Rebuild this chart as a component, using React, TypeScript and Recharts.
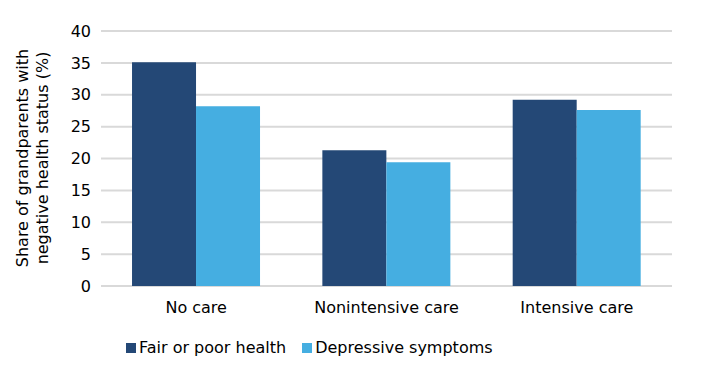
import { BarChart, Bar, XAxis, YAxis, CartesianGrid, Legend } from "recharts";

const categories = ["No care", "Nonintensive care", "Intensive care"];
const fairPoorHealth = [35.1, 21.3, 29.2];
const depressiveSymptoms = [28.2, 19.4, 27.6];
const yTicks = [0, 5, 10, 15, 20, 25, 30, 35, 40];

const SERIES = [
  { key: "fair", name: "Fair or poor health", color: "#244876" },
  { key: "dep", name: "Depressive symptoms", color: "#45aee1" },
];

const data = categories.map((name, i) => ({
  name,
  fair: fairPoorHealth[i],
  dep: depressiveSymptoms[i],
}));

const FONT = "Verdana, 'DejaVu Sans', sans-serif";

const YLabel = () => (
  <text
    transform="translate(0,158) rotate(-90)"
    textAnchor="middle"
    fontFamily={FONT}
    fontSize={16}
    fill="#000"
  >
    <tspan x={0} y={28}>Share of grandparents with</tspan>
    <tspan x={0} y={48}>negative health status (%)</tspan>
  </text>
);

const LegendContent = () => (
  <div style={{ display: "flex", fontFamily: FONT, fontSize: 16, color: "#000" }}>
    {SERIES.map((s, i) => (
      <div
        key={s.key}
        style={{ display: "flex", alignItems: "center", marginRight: i === 0 ? 16 : 0 }}
      >
        <span
          style={{ width: 10, height: 10, background: s.color, display: "inline-block", marginRight: 3 }}
        />
        <span>{s.name}</span>
      </div>
    ))}
  </div>
);

export default function App() {
  return (
    <div style={{ position: "absolute", left: 0, top: 0, background: "#fff" }}>
      <BarChart
        width={712}
        height={390}
        data={data}
        margin={{ top: 31, right: 40, bottom: 55, left: 0 }}
        barCategoryGap="16.3%"
        barGap={0}
      >
        <CartesianGrid vertical={false} stroke="#d9d9d9" strokeWidth={2} />
        <XAxis
          dataKey="name"
          axisLine={false}
          tickLine={false}
          tick={{ fontFamily: FONT, fontSize: 16, fill: "#000" }}
          tickMargin={10}
        />
        <YAxis
          width={101}
          domain={[0, 40]}
          ticks={yTicks}
          axisLine={false}
          tickLine={false}
          tickMargin={4}
          tick={{ fontFamily: FONT, fontSize: 16, fill: "#000" }}
          label={<YLabel />}
        />
        <Legend
          content={<LegendContent />}
          wrapperStyle={{ left: 126, top: 338, width: "auto" }}
        />
        {SERIES.map((s) => (
          <Bar key={s.key} dataKey={s.key} name={s.name} fill={s.color} isAnimationActive={false} />
        ))}
      </BarChart>
    </div>
  );
}
